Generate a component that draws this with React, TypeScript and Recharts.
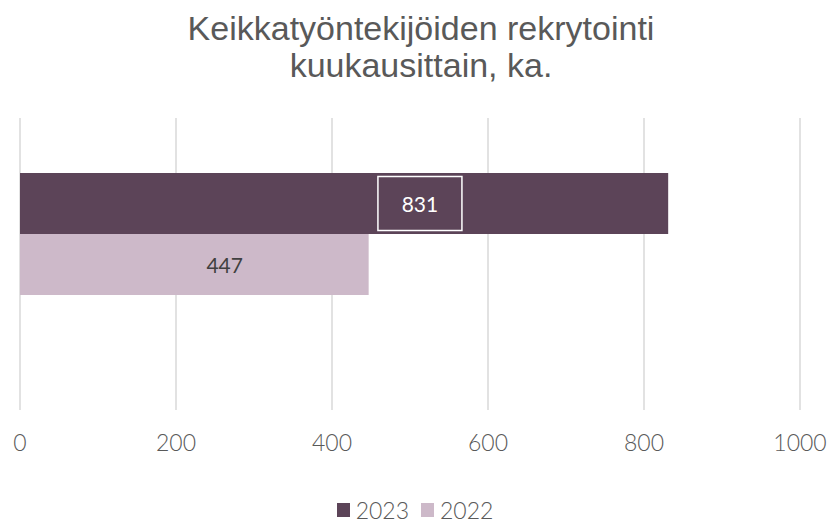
import React from "react";
import { BarChart, Bar, XAxis, YAxis, CartesianGrid, Legend, LabelList } from "recharts";

const categories = ["Keikkatyöntekijät"];
const values2023 = [831];
const values2022 = [447];
const xTicks = [0, 200, 400, 600, 800, 1000];

const data = categories.map((name, i) => ({
  name,
  y2023: values2023[i],
  y2022: values2022[i],
}));

const DARK = "#5C4458";
const LIGHT = "#CDB9C9";
const TEXT = "#595959";
const NUM_FONT = "Lato, 'Noto Sans', sans-serif";

// label of the 2023 bar: white text inside a white outlined box
const BoxedLabel = (props: any) => {
  const { x, y, width, height, value } = props;
  const cx = x + width * 0.617;
  const cy = y + height / 2;
  return (
    <g>
      <rect x={cx - 42} y={cy - 27} width={84} height={54} fill="none" stroke="#fff" strokeWidth={1.5} />
      <text x={cx} y={cy} fill="#fff" fontSize={21} fontFamily={NUM_FONT} textAnchor="middle" dominantBaseline="central">
        {value}
      </text>
    </g>
  );
};

const PlainLabel = (props: any) => {
  const { x, y, width, height, value } = props;
  return (
    <text x={x + width * 0.587} y={y + height / 2} fill="#404040" fontSize={21} fontFamily={NUM_FONT} textAnchor="middle" dominantBaseline="central">
      {value}
    </text>
  );
};

const LegendContent = () => (
  <div style={{ display: "flex", justifyContent: "center", alignItems: "center", fontFamily: NUM_FONT, fontWeight: 300, fontSize: 23, lineHeight: "24px", color: TEXT }}>
    <span style={{ width: 13, height: 14, background: DARK, display: "inline-block", marginRight: 6 }} />
    <span style={{ marginRight: 12 }}>2023</span>
    <span style={{ width: 13, height: 14, background: LIGHT, display: "inline-block", marginRight: 6 }} />
    <span>2022</span>
  </div>
);

export default function App() {
  return (
    <div style={{ position: "absolute", left: 0, top: 0, width: 830, height: 523, background: "#fff", overflow: "hidden" }}>
      <div
        style={{
          position: "absolute",
          top: 10,
          left: 6,
          width: 830,
          textAlign: "center",
          fontFamily: "'Liberation Sans', Arial, sans-serif",
          fontSize: 34,
          lineHeight: "37px",
          color: TEXT,
        }}
      >
        Keikkatyöntekijöiden rekrytointi
        <br />
        kuukausittain, ka.
      </div>
      <BarChart
        width={830}
        height={523}
        data={data}
        layout="vertical"
        margin={{ top: 118, right: 30, bottom: 0, left: 20 }}
        barGap={0}
        barSize={61}
      >
        <CartesianGrid horizontal={false} stroke="#D9D9D9" strokeWidth={1.5} />
        <XAxis
          type="number"
          domain={[0, 1000]}
          ticks={xTicks}
          axisLine={false}
          tickLine={false}
          tickSize={0}
          tickMargin={25}
          height={113}
          tick={{ fill: TEXT, fontSize: 23, fontWeight: 300, fontFamily: NUM_FONT }}
        />
        <YAxis type="category" dataKey="name" hide padding={{ top: 0, bottom: 60 }} />
        <Legend
          content={<LegendContent />}
          wrapperStyle={{ position: "absolute", top: 498, bottom: "auto", left: 0, width: 830, height: 0, overflow: "visible" }}
        />
        <Bar dataKey="y2023" name="2023" fill={DARK} isAnimationActive={false}>
          <LabelList dataKey="y2023" content={<BoxedLabel />} />
        </Bar>
        <Bar dataKey="y2022" name="2022" fill={LIGHT} isAnimationActive={false}>
          <LabelList dataKey="y2022" content={<PlainLabel />} />
        </Bar>
      </BarChart>
    </div>
  );
}
